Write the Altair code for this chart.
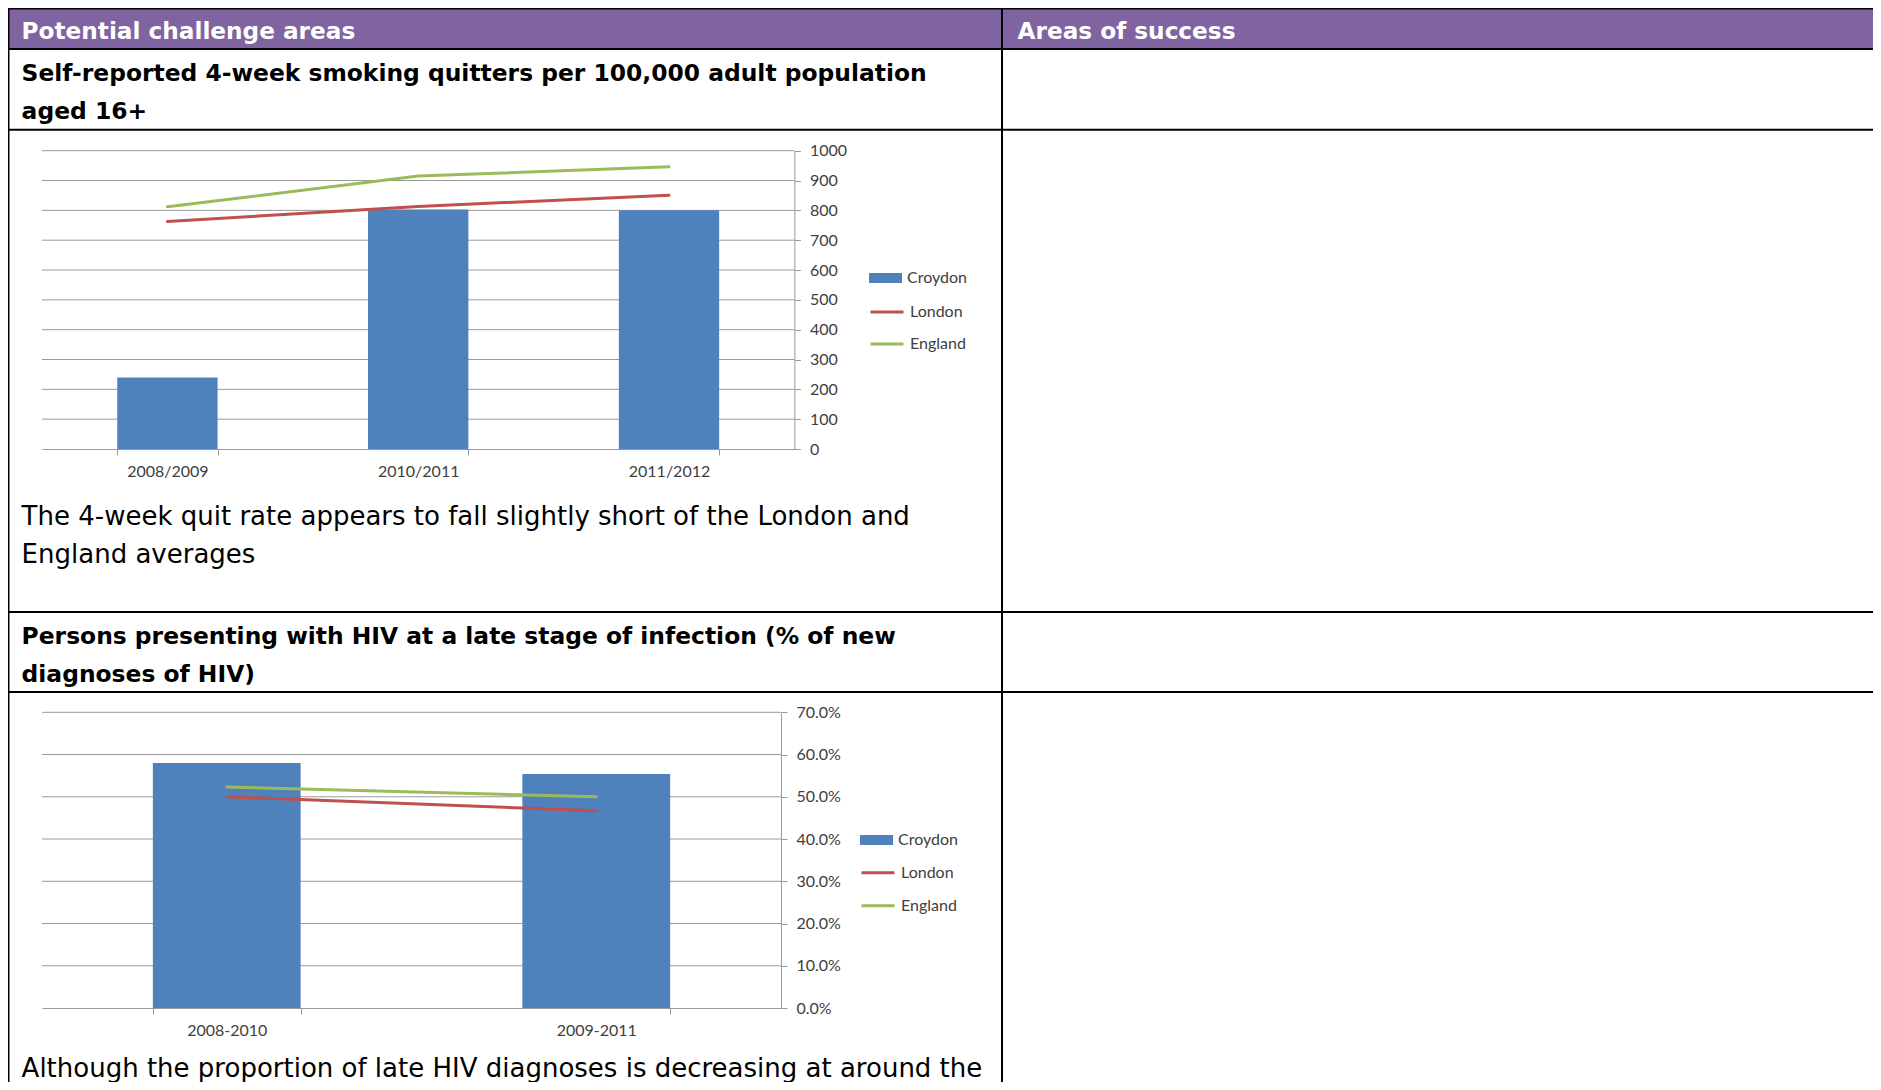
import altair as alt
import pandas as pd

# ---------------- data ----------------
smoke_periods = ["2008/2009", "2010/2011", "2011/2012"]
smoke_croydon = [240, 803, 800]
smoke_london = [763, 813, 851]
smoke_england = [812, 915, 946]
smoke_ticks = [0, 100, 200, 300, 400, 500, 600, 700, 800, 900, 1000]

hiv_periods = ["2008-2010", "2009-2011"]
hiv_croydon = [0.580, 0.554]
hiv_london = [0.500, 0.467]
hiv_england = [0.523, 0.500]
hiv_ticks = [0.0, 0.1, 0.2, 0.3, 0.4, 0.5, 0.6, 0.7]

header_labels = ["Potential challenge areas", "Areas of success"]
smoke_title = ["Self-reported 4-week smoking quitters per 100,000 adult population", "aged 16+"]
smoke_note = ["The 4-week quit rate appears to fall slightly short of the London and", "England averages"]
hiv_title = ["Persons presenting with HIV at a late stage of infection (% of new", "diagnoses of HIV)"]
hiv_note = ["Although the proportion of late HIV diagnoses is decreasing at around the"]

W, H = 1865, 1074
FONT = "Lato"
PAGE_FONT = "DejaVu Sans"
PURPLE = "#8064A2"
BLUE, RED, GREEN = "#4F81BD", "#C0504D", "#9BBB59"
GRID = "#9a9a9a"
LABEL = "#404040"

one = alt.Data(values=[{}])


def txt(s, x, y, size, weight="normal", color="black"):
    return alt.Chart(one).mark_text(
        text=s, align="left", baseline="middle", font=PAGE_FONT, fontSize=size,
        fontWeight=weight, color=color
    ).encode(x=alt.value(x), y=alt.value(y))


def hrule(x1, x2, y, w=2):
    return alt.Chart(one).mark_rule(color="black", strokeWidth=w).encode(
        x=alt.value(x1), x2=alt.value(x2), y=alt.value(y))


def vrule(x, y1, y2, w=2):
    return alt.Chart(one).mark_rule(color="black", strokeWidth=w).encode(
        x=alt.value(x), y=alt.value(y1), y2=alt.value(y2))


# ---------------- page / table ----------------
page = [
    alt.Chart(one).mark_rect(color=PURPLE).encode(
        x=alt.value(0), x2=alt.value(W), y=alt.value(1), y2=alt.value(40)),
    hrule(0, W, 0.5),
    hrule(0, W, 41),
    hrule(0, W, 121.7),
    hrule(0, W, 604),
    hrule(0, W, 684),
    vrule(0.5, 0, H),
    vrule(994, 0, H),
    txt(header_labels[0], 13.6, 24, 23.2, "bold", "white"),
    txt(header_labels[1], 1009.6, 24, 23.2, "bold", "white"),
    txt(smoke_title[0], 13.6, 65.5, 23.4, "bold"),
    txt(smoke_title[1], 13.6, 103.5, 23.4, "bold"),
    txt(smoke_note[0], 13.6, 509, 26),
    txt(smoke_note[1], 13.6, 547, 26),
    txt(hiv_title[0], 13.6, 628.5, 23.4, "bold"),
    txt(hiv_title[1], 13.6, 666.5, 23.4, "bold"),
    txt(hiv_note[0], 13.6, 1061, 26),
]


def make_panel(periods, croydon, london, england, ticks, fmt,
               x_range, y_range, leg_x, leg_y_fill, leg_y_stroke, row_pad):
    bars = pd.DataFrame({"period": periods, "value": croydon, "series": "Croydon"})
    lines = pd.concat([
        pd.DataFrame({"period": periods, "value": london, "series": "London"}),
        pd.DataFrame({"period": periods, "value": england, "series": "England"}),
    ])
    grid = pd.DataFrame({"value": ticks[1:]})

    axis_common = dict(
        labelFont=FONT, labelFontSize=16, labelColor=LABEL, domainColor=GRID,
        tickColor=GRID, tickSize=6, grid=False, title=None,
    )
    x_enc = alt.X(
        "period:N", sort=periods, title=None,
        scale=alt.Scale(domain=periods, range=x_range, paddingInner=0.6, paddingOuter=0.3),
        axis=alt.Axis(orient="bottom", offset=y_range[0] - H, tickBand="extent",
                      labelAngle=0, labelPadding=8, **axis_common),
    )
    y_enc = alt.Y(
        "value:Q", title=None,
        scale=alt.Scale(domain=[ticks[0], ticks[-1]], range=y_range, nice=False),
        axis=alt.Axis(orient="right", offset=x_range[1] - W, values=ticks, format=fmt,
                      labelPadding=9, **axis_common),
    )

    grid_layer = alt.Chart(grid).mark_rule(color=GRID, strokeWidth=1).encode(
        y=y_enc, x=alt.value(x_range[0]), x2=alt.value(x_range[1]))
    bar_layer = alt.Chart(bars).mark_bar().encode(
        x=x_enc, y=y_enc,
        fill=alt.Fill("series:N", scale=alt.Scale(domain=["Croydon"], range=[BLUE]),
                      legend=alt.Legend(orient="none", legendX=leg_x, legendY=leg_y_fill,
                                        title=None, symbolType="M-1,-0.31H1V0.31H-1Z",
                                        symbolSize=1089, symbolStrokeWidth=0,
                                        clipHeight=20, padding=0,
                                        labelFont=FONT, labelFontSize=16,
                                        labelColor=LABEL, labelOffset=5)),
    )
    line_layer = alt.Chart(lines).mark_line(strokeWidth=3, strokeCap="round").encode(
        x=x_enc, y=y_enc,
        stroke=alt.Stroke("series:N",
                          scale=alt.Scale(domain=["London", "England"], range=[RED, GREEN]),
                          legend=alt.Legend(orient="none", legendX=leg_x, legendY=leg_y_stroke,
                                            title=None, symbolType="stroke",
                                            symbolSize=1089, symbolStrokeWidth=3,
                                            clipHeight=20, rowPadding=row_pad, padding=0,
                                            labelFont=FONT, labelFontSize=16,
                                            labelColor=LABEL, labelOffset=5)),
    )
    return alt.layer(grid_layer, bar_layer, line_layer)


panel1 = make_panel(smoke_periods, smoke_croydon, smoke_london, smoke_england,
                    smoke_ticks, "d", [34, 786.4], [441, 142.7],
                    861, 260, 294, 12)
panel2 = make_panel(hiv_periods, hiv_croydon, hiv_london, hiv_england,
                    hiv_ticks, ".1%", [34, 773], [1000, 704.3],
                    852, 822, 854.7, 13)

chart = alt.layer(*page, panel1, panel2).resolve_scale(
    x="independent", y="independent", fill="independent", stroke="independent"
).properties(
    width=W, height=H, autosize="none", padding=0
).configure_view(stroke=None)

chart.save("out.html", embed_options={"renderer": "svg", "actions": False})
